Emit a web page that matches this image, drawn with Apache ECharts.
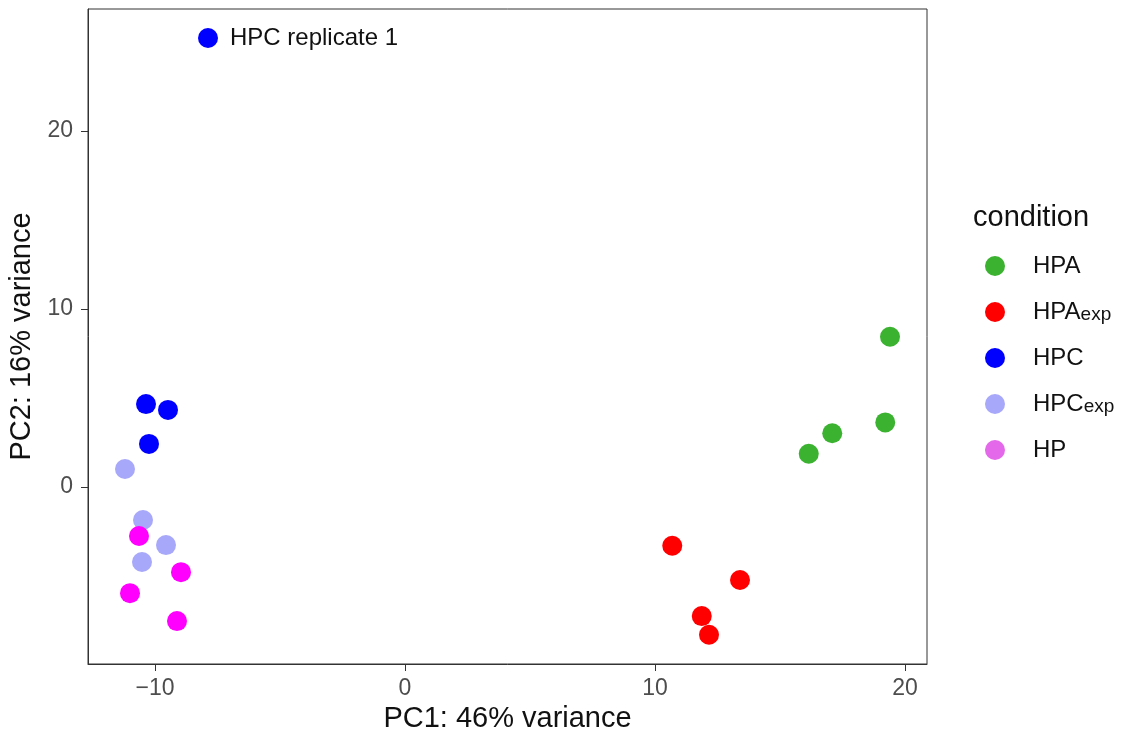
<!DOCTYPE html>
<html>
<head>
<meta charset="utf-8">
<script src="https://cdn.jsdelivr.net/npm/echarts@6/dist/echarts.min.js"></script>
<style>
  html, body { margin: 0; padding: 0; background: #fff; }
  #chart { width: 1121px; height: 735px; }
</style>
</head>
<body>
<div id="chart"></div>
<script>
// PCA coordinates
const hpa = [[19.4, 8.44], [19.21, 3.63], [17.09, 3.02], [16.15, 1.87]]
const hpaExp = [[10.69, -3.30], [13.4, -5.22], [11.87, -7.25], [12.16, -8.30]]
const hpc = [[-7.88, 25.22], [-10.36, 4.66], [-9.48, 4.33], [-10.24, 2.42]]
const hpcExp = [[-11.2, 1.01], [-10.48, -1.85], [-9.56, -3.26], [-10.52, -4.21]]
const hp = [[-10.64, -2.75], [-8.96, -4.78], [-11.0, -5.96], [-9.12, -7.53]]

const xTicks = [-10, 0, 10, 20]
const yTicks = [0, 10, 20]

const labelledPoint = 'HPC replicate 1'

const font = "'Liberation Sans', Arial, sans-serif"

const chart = echarts.init(document.getElementById('chart'))

const makeSeries = (name, data, color) => ({
  name: name,
  type: 'scatter',
  data: data,
  symbol: 'circle',
  symbolSize: 20,
  itemStyle: { color: color, opacity: 1 },
  emphasis: { disabled: true }
})

// first HPC sample carries the text label
const hpcSeries = makeSeries('HPC', hpc.map((p, i) => {
  if (i === 0) {
    return {
      value: p,
      label: {
        show: true,
        position: 'right',
        distance: 12,
        formatter: labelledPoint,
        color: '#111',
        fontSize: 24,
        fontFamily: font
      }
    }
  }
  return p
}), '#0000ff')

const legendName = {
  HPA: '{a|HPA}',
  HPAexp: '{a|HPA}{b|exp}',
  HPC: '{a|HPC}',
  HPCexp: '{a|HPC}{b|exp}',
  HP: '{a|HP}'
}

const axisLineStyle = { color: '#333', width: 1 }

const option = {
  animation: false,
  backgroundColor: '#fff',
  title: {
    text: 'condition',
    left: 968,
    top: 198,
    textStyle: { fontFamily: font, fontSize: 29, fontWeight: 'normal', color: '#111' }
  },
  legend: {
    orient: 'vertical',
    left: 980,
    top: 249,
    itemWidth: 20,
    itemHeight: 20,
    itemGap: 22,
    icon: 'circle',
    data: [
      { name: 'HPA' },
      { name: 'HPAexp' },
      { name: 'HPC' },
      { name: 'HPCexp' },
      { name: 'HP', itemStyle: { color: '#e468ea' } }
    ],
    formatter: name => legendName[name],
    textStyle: {
      fontFamily: font,
      padding: [0, 0, 0, 23],
      rich: {
        a: { fontFamily: font, fontSize: 24, color: '#111', lineHeight: 24, verticalAlign: 'bottom' },
        b: { fontFamily: font, fontSize: 19, color: '#111', lineHeight: 19, verticalAlign: 'bottom' }
      }
    }
  },
  grid: {
    left: 88,
    top: 9,
    right: 194,
    bottom: 71,
    outerBoundsMode: 'none',
    show: true,
    borderColor: '#333',
    borderWidth: 1,
    backgroundColor: '#fff'
  },
  xAxis: {
    type: 'value',
    min: -12.68,
    max: 20.88,
    name: 'PC1: 46% variance',
    nameLocation: 'middle',
    nameGap: 40,
    nameTextStyle: { fontFamily: font, fontSize: 29, color: '#111' },
    axisLine: { show: true, onZero: false, lineStyle: axisLineStyle },
    splitLine: { show: false },
    axisTick: { show: true, length: 7, lineStyle: axisLineStyle, customValues: xTicks },
    axisLabel: {
      fontFamily: font, fontSize: 23, color: '#4d4d4d', margin: 13,
      customValues: xTicks,
      formatter: v => (v < 0 ? '\u2212' + Math.abs(v) : String(v))
    }
  },
  yAxis: {
    type: 'value',
    min: -9.94,
    max: 26.85,
    name: 'PC2: 16% variance',
    nameLocation: 'middle',
    nameGap: 35,
    nameTextStyle: { fontFamily: font, fontSize: 29, color: '#111' },
    axisLine: { show: true, onZero: false, lineStyle: axisLineStyle },
    splitLine: { show: false },
    axisTick: { show: true, length: 7, lineStyle: axisLineStyle, customValues: yTicks },
    axisLabel: {
      fontFamily: font, fontSize: 23, color: '#4d4d4d', margin: 15,
      customValues: yTicks
    }
  },
  series: [
    makeSeries('HPA', hpa, '#3cb231'),
    makeSeries('HPAexp', hpaExp, '#ff0000'),
    hpcSeries,
    makeSeries('HPCexp', hpcExp, '#a8a8fa'),
    makeSeries('HP', hp, '#ff00ff')
  ]
}

chart.setOption(option)
</script>
</body>
</html>
